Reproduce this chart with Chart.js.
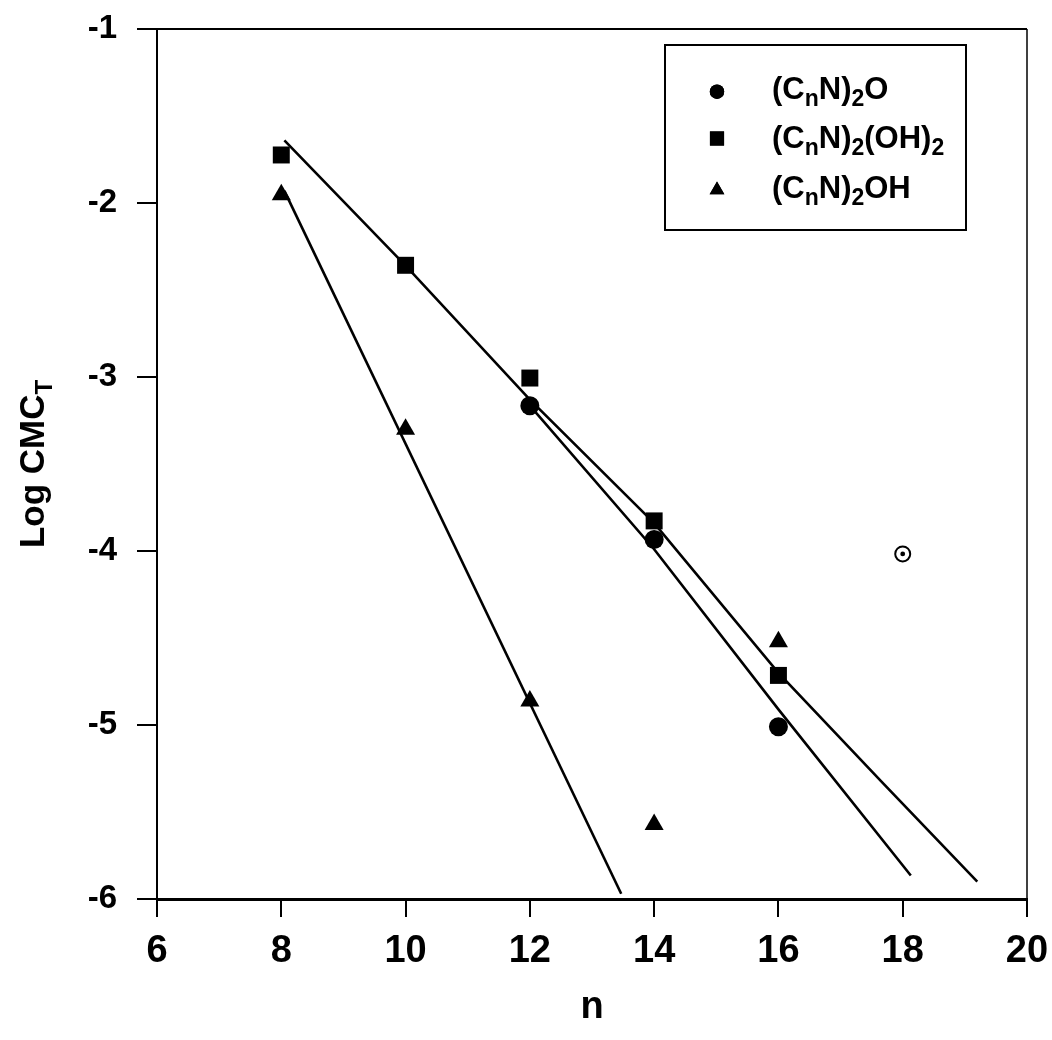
<!DOCTYPE html>
<html>
<head>
<meta charset="utf-8">
<script src="https://cdn.jsdelivr.net/npm/chart.js@4.4.1/dist/chart.umd.min.js"></script>
<style>
  html, body { margin: 0; padding: 0; background: #fff; }
  canvas { display: block; }
</style>
</head>
<body>
<canvas id="chart" width="1052" height="1040"></canvas>
<script>
// Measured log CMC values against alkyl chain length n
const cnO_n = [12, 14, 16];
const cnO_logCMC = [-3.165, -3.934, -5.01];

const cnOH2_n = [8, 10, 12, 14, 16];
const cnOH2_logCMC = [-1.724, -2.358, -3.006, -3.827, -4.715];

const cnOH_n = [8, 10, 12, 14, 16];
const cnOH_logCMC = [-1.953, -3.30, -4.862, -5.572, -4.522];

// C18 point of the (CnN)2O series, shown as an open marker
const outlier_n = [18];
const outlier_logCMC = [-4.017];

// Trend lines drawn through each series
const fitO_n = [12, 14, 16, 18.13];
const fitO_logCMC = [-3.165, -3.99, -4.91, -5.865];

const fitOH2_n = [8.05, 10, 12, 14, 16, 17.67, 19.2];
const fitOH2_logCMC = [-1.64, -2.36, -3.13, -3.84, -4.70, -5.33, -5.90];

const fitOH_n = [8.05, 13.47];
const fitOH_logCMC = [-1.93, -5.97];

// Axis ticks
const xTickValues = [6, 8, 10, 12, 14, 16, 18, 20];
const yTickValues = [-1, -2, -3, -4, -5, -6];

// Legend entries: each label split into [text, isSubscript] runs
const legendLabels = [
  [['(C', false], ['n', true], ['N)', false], ['2', true], ['O', false]],
  [['(C', false], ['n', true], ['N)', false], ['2', true], ['(OH)', false], ['2', true]],
  [['(C', false], ['n', true], ['N)', false], ['2', true], ['OH', false]]
];
const legendStyles = ['circle', 'rect', 'triangle'];

const yTitleMain = 'Log CMC';
const yTitleSub = 'T';
const xTitle = 'n';

const toXY = (xs, ys) => xs.map((x, i) => ({ x: x, y: ys[i] }));

const FONT = "'Liberation Sans', Arial, Helvetica, sans-serif";

const lineDs = (xs, ys) => ({
  type: 'scatter',
  data: toXY(xs, ys),
  showLine: true,
  borderColor: '#000',
  borderWidth: 2.6,
  pointRadius: 0,
  fill: false,
  order: 3
});

const markerDs = (xs, ys, style, radius) => ({
  type: 'scatter',
  data: toXY(xs, ys),
  showLine: false,
  pointStyle: style,
  pointRadius: radius,
  backgroundColor: '#000',
  borderColor: '#000',
  borderWidth: 0,
  order: 1
});

// Frame on the top and right sides of the plot area
const framePlugin = {
  id: 'frame',
  afterDatasetsDraw(chart) {
    const { ctx, chartArea: a } = chart;
    ctx.save();
    ctx.strokeStyle = '#000';
    ctx.lineWidth = 2;
    ctx.beginPath();
    ctx.moveTo(a.left, a.top);
    ctx.lineTo(a.right, a.top);
    ctx.stroke();
    ctx.lineWidth = 1.5;
    ctx.beginPath();
    ctx.moveTo(a.right, a.top);
    ctx.lineTo(a.right, a.bottom);
    ctx.stroke();
    ctx.restore();
  }
};

// Rotated y title with subscript
const yTitlePlugin = {
  id: 'yTitle',
  afterDraw(chart) {
    const ctx = chart.ctx;
    const a = chart.chartArea;
    ctx.save();
    ctx.fillStyle = '#000';
    ctx.textBaseline = 'alphabetic';
    ctx.textAlign = 'left';
    ctx.font = 'bold 35px ' + FONT;
    const w1 = ctx.measureText(yTitleMain).width;
    ctx.font = 'bold 24px ' + FONT;
    const w2 = ctx.measureText(yTitleSub).width;
    ctx.translate(44, (a.top + a.bottom) / 2);
    ctx.rotate(-Math.PI / 2);
    const start = -(w1 + w2) / 2;
    ctx.font = 'bold 35px ' + FONT;
    ctx.fillText(yTitleMain, start, 0);
    ctx.font = 'bold 24px ' + FONT;
    ctx.fillText(yTitleSub, start + w1, 8);
    ctx.restore();
  }
};

// Boxed legend with subscripted formulas
const legendPlugin = {
  id: 'formulaLegend',
  afterDraw(chart) {
    const ctx = chart.ctx;
    ctx.save();
    ctx.strokeStyle = '#000';
    ctx.lineWidth = 2;
    ctx.strokeRect(665, 45, 301, 185);
    const markerY = [91.7, 138.5, 190];
    const baseY = [98.5, 148, 198];
    legendLabels.forEach((runs, i) => {
      Chart.helpers.drawPoint(ctx, {
        pointStyle: legendStyles[i],
        radius: legendStyles[i] === 'rect' ? 10 : (legendStyles[i] === 'triangle' ? 8.5 : 7.2),
        rotation: 0,
        borderWidth: 0
      }, 717, markerY[i]);
      ctx.fillStyle = '#000';
      ctx.fill();
      let x = 772;
      ctx.textAlign = 'left';
      ctx.textBaseline = 'alphabetic';
      runs.forEach(([t, sub]) => {
        ctx.font = sub ? 'bold 23px ' + FONT : 'bold 31px ' + FONT;
        ctx.fillText(t, x, baseY[i] + (sub ? 7 : 0));
        x += ctx.measureText(t).width;
      });
    });
    ctx.restore();
  }
};

new Chart(document.getElementById('chart'), {
  type: 'scatter',
  data: {
    datasets: [
      lineDs(fitOH2_n, fitOH2_logCMC),
      lineDs(fitO_n, fitO_logCMC),
      lineDs(fitOH_n, fitOH_logCMC),
      markerDs(cnO_n, cnO_logCMC, 'circle', 9.5),
      markerDs(cnOH2_n, cnOH2_logCMC, 'rect', 12),
      markerDs(cnOH_n, cnOH_logCMC, 'triangle', 11),
      {
        type: 'scatter',
        data: toXY(outlier_n, outlier_logCMC),
        pointStyle: 'circle',
        pointRadius: 7.5,
        backgroundColor: '#fff',
        borderColor: '#000',
        borderWidth: 2,
        order: 1
      },
      {
        type: 'scatter',
        data: toXY(outlier_n, outlier_logCMC),
        pointStyle: 'circle',
        pointRadius: 2.4,
        backgroundColor: '#000',
        borderColor: '#000',
        borderWidth: 0,
        order: 0
      }
    ]
  },
  options: {
    responsive: false,
    animation: false,
    devicePixelRatio: 1,
    layout: { padding: { top: 29, right: 25, left: 0, bottom: 0 } },
    plugins: { legend: { display: false }, tooltip: { enabled: false } },
    scales: {
      x: {
        type: 'linear',
        min: 6,
        max: 20,
        afterBuildTicks: s => { s.ticks = xTickValues.map(v => ({ value: v })); },
        afterFit: s => {
          s.height = 141;
          s.paddingLeft = 0;
          s.paddingRight = 0;
        },
        ticks: {
          color: '#000',
          padding: 12,
          maxRotation: 0,
          autoSkip: false,
          font: { family: FONT, size: 38, weight: 'bold' }
        },
        grid: {
          display: true,
          drawOnChartArea: false,
          drawTicks: true,
          tickLength: 18,
          color: '#000',
          lineWidth: 2
        },
        border: { display: true, color: '#000', width: 3 },
        title: {
          display: true,
          text: xTitle,
          color: '#000',
          font: { family: FONT, size: 38, weight: 'bold' },
          padding: { top: 0, bottom: 10 }
        }
      },
      y: {
        type: 'linear',
        min: -6,
        max: -1,
        afterBuildTicks: s => { s.ticks = yTickValues.map(v => ({ value: v })); },
        afterFit: s => {
          s.width = 157;
          s.paddingTop = 0;
          s.paddingBottom = 0;
        },
        ticks: {
          color: '#000',
          padding: 20,
          autoSkip: false,
          font: { family: FONT, size: 33, weight: 'bold' }
        },
        grid: {
          display: true,
          drawOnChartArea: false,
          drawTicks: true,
          tickLength: 20,
          color: '#000',
          lineWidth: 2
        },
        border: { display: true, color: '#000', width: 2 }
      }
    }
  },
  plugins: [framePlugin, yTitlePlugin, legendPlugin]
});
</script>
</body>
</html>
